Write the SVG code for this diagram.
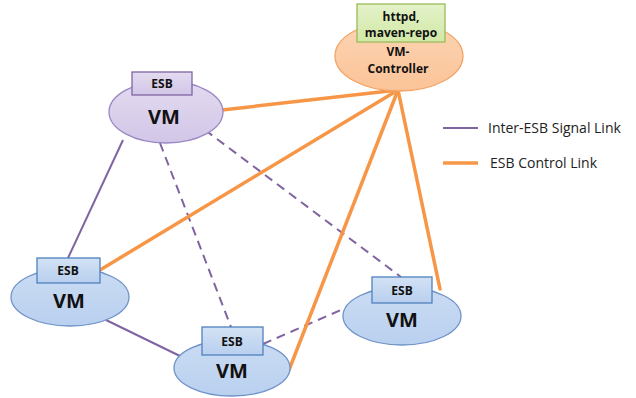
<svg xmlns="http://www.w3.org/2000/svg" width="636" height="398" viewBox="0 0 636 398">
  <style>
    .sig { stroke: #8064a2; stroke-width: 2; fill: none; }
    .dash { stroke-dasharray: 9 6; }
    .ctl { stroke: #f79646; stroke-width: 3.5; fill: none; stroke-linecap: round; }
    .lbl { font-family: "Open Sans", "Liberation Sans", sans-serif; font-weight: bold; fill: #111; text-anchor: middle; }
    .vm { font-size: 20px; }
    .esb { font-size: 12px; }
    .leg { font-family: "Open Sans", "Liberation Sans", sans-serif; font-size: 14px; fill: #222; }
    .bluevm { fill: url(#gBlue); stroke: #6f93c9; stroke-width: 1.3; }
    .blueesb { fill: url(#gBlueBox); stroke: #4f81bd; stroke-width: 1.3; }
  </style>
  <defs>
    <linearGradient id="gBlue" x1="0" y1="0" x2="0" y2="1">
      <stop offset="0" stop-color="#cbdcf3"/>
      <stop offset="1" stop-color="#b9d0ef"/>
    </linearGradient>
    <linearGradient id="gBlueBox" x1="0" y1="0" x2="0" y2="1">
      <stop offset="0" stop-color="#d3e2f5"/>
      <stop offset="1" stop-color="#b8cfee"/>
    </linearGradient>
    <linearGradient id="gPurple" x1="0" y1="0" x2="0" y2="1">
      <stop offset="0" stop-color="#e3dbf0"/>
      <stop offset="1" stop-color="#d2c6e7"/>
    </linearGradient>
    <linearGradient id="gOrange" x1="0" y1="0" x2="0" y2="1">
      <stop offset="0" stop-color="#fcd5b5"/>
      <stop offset="1" stop-color="#fbc397"/>
    </linearGradient>
    <linearGradient id="gGreen" x1="0" y1="0" x2="0" y2="1">
      <stop offset="0" stop-color="#e4f2c9"/>
      <stop offset="1" stop-color="#d1e8a6"/>
    </linearGradient>
  </defs>

  <!-- links between nodes -->
  <g id="connectors">
    <line class="sig" x1="123" y1="140" x2="68" y2="258"/>
    <line class="sig" x1="106" y1="320" x2="180" y2="356"/>
    <line class="sig dash" x1="160" y1="143" x2="231" y2="327"/>
    <line class="sig dash" x1="205" y1="130" x2="401" y2="277"/>
    <line class="sig dash" x1="263" y1="344" x2="350" y2="306"/>
    <line class="ctl" x1="222" y1="110" x2="398" y2="90"/>
    <line class="ctl" x1="100" y1="270" x2="398" y2="90"/>
    <line class="ctl" x1="289" y1="370" x2="398" y2="90"/>
    <line class="ctl" x1="440" y1="289" x2="398" y2="90"/>
  </g>

  <!-- controller VM with its service box -->
  <g id="vm-controller">
    <ellipse cx="399" cy="56" rx="64" ry="35" fill="url(#gOrange)" stroke="#f3a466" stroke-width="1.3"/>
    <rect x="357" y="4" width="88" height="38" fill="url(#gGreen)" stroke="#9bbb59" stroke-width="1.3"/>
    <text class="lbl esb" x="401" y="21">httpd,</text>
    <text class="lbl esb" x="401" y="37">maven-repo</text>
    <text class="lbl esb" x="398" y="56">VM-</text>
    <text class="lbl esb" x="398" y="73">Controller</text>
  </g>

  <g id="vm-top">
    <ellipse cx="166" cy="112" rx="57" ry="31" fill="url(#gPurple)" stroke="#9a88c4" stroke-width="1.3"/>
    <rect x="132" y="72" width="60" height="23" fill="url(#gPurple)" stroke="#8064a2" stroke-width="1.3"/>
    <text class="lbl esb" x="162" y="88">ESB</text>
    <text class="lbl vm" x="164" y="124">VM</text>
  </g>

  <g id="vm-left">
    <ellipse class="bluevm" cx="70" cy="297" rx="59" ry="29"/>
    <rect class="blueesb" x="37" y="258" width="63" height="25"/>
    <text class="lbl esb" x="68" y="275">ESB</text>
    <text class="lbl vm" x="69" y="308">VM</text>
  </g>

  <g id="vm-bottom">
    <ellipse class="bluevm" cx="232" cy="368" rx="58" ry="28"/>
    <rect class="blueesb" x="202" y="327" width="61" height="28"/>
    <text class="lbl esb" x="232" y="346">ESB</text>
    <text class="lbl vm" x="232" y="378">VM</text>
  </g>

  <g id="vm-right">
    <ellipse class="bluevm" cx="402" cy="316" rx="59" ry="29"/>
    <rect class="blueesb" x="372" y="277" width="60" height="26"/>
    <text class="lbl esb" x="402" y="295">ESB</text>
    <text class="lbl vm" x="402" y="327">VM</text>
  </g>

  <g id="legend">
    <line class="sig" x1="443" y1="128" x2="478" y2="128"/>
    <text class="leg" x="488" y="133">Inter-ESB Signal Link</text>
    <line x1="443" y1="163" x2="478" y2="163" stroke="#f79646" stroke-width="3.5"/>
    <text class="leg" x="490" y="168">ESB Control Link</text>
  </g>
</svg>
